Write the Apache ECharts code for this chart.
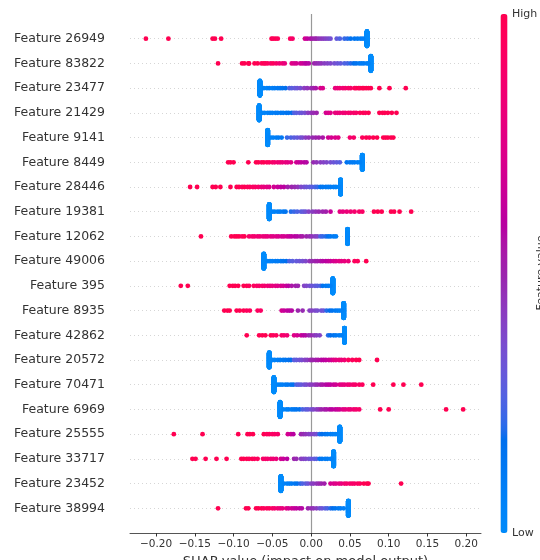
<!DOCTYPE html>
<html>
<head>
<meta charset="utf-8">
<script src="https://cdn.jsdelivr.net/npm/echarts@6/dist/echarts.min.js"></script>
<style>
  html, body { margin: 0; padding: 0; background: #fff; }
  #chart { width: 540px; height: 560px; }
</style>
</head>
<body>
<div id="chart"></div>
<script>
// Features, ordered by mean |SHAP| (top row first)
const featureNames = [
  'Feature 26949', 'Feature 83822', 'Feature 23477', 'Feature 21429', 'Feature 9141',
  'Feature 8449', 'Feature 28446', 'Feature 19381', 'Feature 12062', 'Feature 49006',
  'Feature 395', 'Feature 8935', 'Feature 42862', 'Feature 20572', 'Feature 70471',
  'Feature 6969', 'Feature 25555', 'Feature 33717', 'Feature 23452', 'Feature 38994'
];

// Number of explained samples per feature
const sampleCount = 200;

// SHAP value shared by all samples where the feature is zero (lowest value)
const clusterShap = [
  0.072, 0.077, -0.066, -0.067, -0.056, 0.066, 0.038, -0.054, 0.047, -0.061,
  0.028, 0.042, 0.043, -0.054, -0.048, -0.040, 0.037, 0.029, -0.039, 0.048
];

// Remaining samples: [SHAP value, normalised feature value]
const pts26949 = [[-0.213,1],[-0.184,1],[-0.127,1],[-0.124,1],[-0.116,1],[-0.051,1],[-0.049,0.95],[-0.046,1],[-0.043,0.95],[-0.027,0.95],[-0.024,0.9],[-0.008,0.7],[-0.005,0.62],[-0.001,0.58],[0.002,0.52],[0.005,0.5],[0.007,0.5],[0.010,0.46],[0.013,0.44],[0.016,0.42],[0.019,0.4],[0.022,0.38],[0.025,0.35],[0.033,0.3],[0.037,0.26],[0.043,0.22],[0.047,0.2],[0.051,0.16],[0.056,0.14],[0.060,0.12],[0.064,0.1],[0.067,0.08]];
const pts83822 = [[-0.120,1],[-0.089,1],[-0.086,1],[-0.081,1],[-0.080,1],[-0.073,1],[-0.069,1],[-0.064,0.95],[-0.061,1],[-0.059,0.95],[-0.056,0.95],[-0.052,0.9],[-0.049,0.95],[-0.045,0.9],[-0.041,0.85],[-0.037,0.85],[-0.034,0.8],[-0.025,0.75],[-0.022,0.72],[-0.019,0.7],[-0.014,0.68],[-0.011,0.66],[-0.008,0.62],[-0.006,0.6],[-0.003,0.58],[0.004,0.5],[0.007,0.48],[0.010,0.46],[0.013,0.45],[0.017,0.42],[0.021,0.4],[0.025,0.38],[0.030,0.35],[0.034,0.32],[0.038,0.3],[0.043,0.26],[0.047,0.24],[0.051,0.2],[0.055,0.18],[0.058,0.15],[0.062,0.12],[0.065,0.1],[0.068,0.1],[0.072,0.08],[0.074,0.06]];
const pts23477 = [[-0.061,0.05],[-0.057,0.05],[-0.054,0.08],[-0.050,0.08],[-0.047,0.1],[-0.043,0.12],[-0.040,0.12],[-0.037,0.15],[-0.033,0.18],[-0.028,0.25],[-0.025,0.28],[-0.021,0.3],[-0.018,0.32],[-0.014,0.35],[-0.009,0.42],[-0.005,0.45],[0.000,0.48],[0.003,0.5],[0.006,0.55],[0.012,0.7],[0.015,0.72],[0.031,0.8],[0.034,0.82],[0.037,0.85],[0.041,0.85],[0.044,0.88],[0.048,0.9],[0.051,0.9],[0.056,0.95],[0.058,0.95],[0.061,1],[0.063,0.95],[0.066,1],[0.068,1],[0.071,1],[0.074,1],[0.077,1],[0.088,1],[0.101,1],[0.122,1]];
const pts21429 = [[-0.063,0.05],[-0.060,0.05],[-0.056,0.06],[-0.053,0.08],[-0.050,0.08],[-0.046,0.1],[-0.043,0.1],[-0.039,0.12],[-0.036,0.12],[-0.032,0.15],[-0.029,0.15],[-0.025,0.18],[-0.022,0.25],[-0.019,0.28],[-0.015,0.3],[-0.012,0.32],[-0.008,0.35],[-0.004,0.42],[0.000,0.45],[0.003,0.48],[0.007,0.5],[0.019,0.7],[0.022,0.72],[0.025,0.75],[0.031,0.8],[0.034,0.8],[0.037,0.82],[0.041,0.85],[0.044,0.85],[0.048,0.88],[0.051,0.88],[0.055,0.9],[0.058,0.9],[0.063,0.95],[0.067,1],[0.070,0.95],[0.074,1],[0.088,1],[0.092,1],[0.095,1],[0.099,1],[0.104,1],[0.110,1]];
const pts9141 = [[-0.052,0.05],[-0.049,0.06],[-0.045,0.08],[-0.042,0.1],[-0.038,0.12],[-0.031,0.22],[-0.026,0.25],[-0.022,0.28],[-0.018,0.3],[-0.014,0.33],[-0.011,0.36],[-0.007,0.42],[-0.003,0.45],[0.002,0.48],[0.006,0.5],[0.010,0.52],[0.015,0.55],[0.022,0.68],[0.026,0.7],[0.031,0.72],[0.035,0.75],[0.050,0.88],[0.055,0.9],[0.066,0.95],[0.071,1],[0.075,0.95],[0.080,1],[0.085,1],[0.093,1],[0.096,1],[0.099,1],[0.103,1],[0.106,1]];
const pts8449 = [[-0.107,1],[-0.104,1],[-0.100,1],[-0.081,1],[-0.071,1],[-0.068,1],[-0.064,0.95],[-0.061,1],[-0.057,0.95],[-0.054,0.95],[-0.050,0.9],[-0.047,0.88],[-0.043,0.85],[-0.040,0.85],[-0.037,0.82],[-0.033,0.8],[-0.030,0.78],[-0.026,0.75],[-0.019,0.68],[-0.016,0.65],[-0.013,0.62],[-0.009,0.6],[-0.006,0.58],[0.003,0.48],[0.007,0.45],[0.012,0.42],[0.016,0.4],[0.020,0.38],[0.025,0.35],[0.029,0.32],[0.033,0.3],[0.037,0.28],[0.046,0.15],[0.050,0.12],[0.053,0.1],[0.056,0.1],[0.060,0.08],[0.063,0.06]];
const pts28446 = [[-0.156,1],[-0.147,1],[-0.127,1],[-0.123,1],[-0.117,1],[-0.104,1],[-0.096,1],[-0.093,1],[-0.089,0.95],[-0.086,1],[-0.082,0.95],[-0.079,0.95],[-0.075,0.92],[-0.072,0.92],[-0.068,0.9],[-0.064,0.82],[-0.061,0.8],[-0.057,0.78],[-0.054,0.75],[-0.048,0.68],[-0.043,0.65],[-0.039,0.62],[-0.035,0.6],[-0.030,0.52],[-0.025,0.5],[-0.021,0.48],[-0.017,0.45],[-0.013,0.38],[-0.009,0.35],[-0.006,0.32],[-0.002,0.3],[0.001,0.28],[0.005,0.25],[0.008,0.22],[0.012,0.15],[0.015,0.12],[0.019,0.12],[0.022,0.1],[0.025,0.1],[0.029,0.08],[0.032,0.06],[0.036,0.05]];
const pts19381 = [[-0.050,0.05],[-0.047,0.06],[-0.043,0.08],[-0.040,0.1],[-0.036,0.12],[-0.033,0.15],[-0.026,0.2],[-0.022,0.22],[-0.018,0.25],[-0.013,0.28],[-0.010,0.3],[-0.007,0.33],[-0.003,0.4],[0.002,0.42],[0.006,0.45],[0.010,0.48],[0.015,0.5],[0.019,0.52],[0.025,0.65],[0.037,0.78],[0.041,0.8],[0.046,0.82],[0.051,0.85],[0.056,0.88],[0.062,0.9],[0.066,0.92],[0.081,1],[0.086,1],[0.091,1],[0.103,1],[0.107,1],[0.114,1],[0.129,1]];
const pts12062 = [[-0.142,1],[-0.103,1],[-0.099,1],[-0.096,1],[-0.093,1],[-0.089,0.95],[-0.086,1],[-0.080,0.9],[-0.076,0.88],[-0.073,0.88],[-0.069,0.85],[-0.066,0.85],[-0.062,0.82],[-0.059,0.82],[-0.056,0.8],[-0.052,0.78],[-0.049,0.75],[-0.045,0.75],[-0.042,0.72],[-0.038,0.7],[-0.035,0.7],[-0.031,0.68],[-0.028,0.65],[-0.025,0.62],[-0.021,0.6],[-0.018,0.58],[-0.014,0.56],[-0.011,0.54],[-0.006,0.5],[-0.002,0.48],[0.001,0.45],[0.005,0.42],[0.008,0.4],[0.012,0.25],[0.015,0.22],[0.019,0.2],[0.022,0.15],[0.025,0.12],[0.029,0.1],[0.032,0.08]];
const pts49006 = [[-0.056,0.05],[-0.053,0.06],[-0.050,0.08],[-0.046,0.1],[-0.043,0.1],[-0.039,0.12],[-0.036,0.15],[-0.032,0.18],[-0.028,0.25],[-0.024,0.28],[-0.019,0.3],[-0.015,0.32],[-0.011,0.35],[-0.007,0.38],[-0.002,0.45],[0.001,0.48],[0.005,0.5],[0.008,0.52],[0.012,0.55],[0.015,0.58],[0.019,0.6],[0.022,0.62],[0.025,0.65],[0.029,0.7],[0.032,0.72],[0.036,0.75],[0.039,0.78],[0.043,0.8],[0.048,0.82],[0.056,0.95],[0.060,0.95],[0.071,1]];
const pts395 = [[-0.168,1],[-0.159,1],[-0.105,1],[-0.101,1],[-0.098,1],[-0.094,1],[-0.087,1],[-0.083,1],[-0.080,0.95],[-0.074,0.95],[-0.070,0.92],[-0.067,0.9],[-0.063,0.9],[-0.060,0.88],[-0.056,0.85],[-0.053,0.82],[-0.050,0.8],[-0.046,0.78],[-0.043,0.75],[-0.039,0.72],[-0.036,0.7],[-0.032,0.65],[-0.029,0.6],[-0.025,0.55],[-0.020,0.52],[-0.017,0.5],[-0.009,0.4],[-0.006,0.38],[-0.002,0.35],[0.001,0.32],[0.005,0.3],[0.008,0.28],[0.012,0.25],[0.015,0.15],[0.019,0.12],[0.022,0.1],[0.025,0.08]];
const pts8935 = [[-0.112,1],[-0.108,1],[-0.105,1],[-0.096,1],[-0.092,1],[-0.087,1],[-0.083,0.95],[-0.079,0.95],[-0.069,0.95],[-0.065,0.92],[-0.038,0.7],[-0.035,0.65],[-0.031,0.62],[-0.028,0.6],[-0.025,0.58],[-0.017,0.5],[-0.011,0.48],[-0.002,0.42],[0.001,0.4],[0.005,0.38],[0.008,0.36],[0.013,0.34],[0.016,0.32],[0.020,0.2],[0.024,0.18],[0.027,0.15],[0.031,0.12],[0.034,0.1],[0.037,0.08],[0.040,0.06]];
const pts42862 = [[-0.083,1],[-0.067,1],[-0.063,1],[-0.059,1],[-0.052,1],[-0.049,0.95],[-0.045,0.95],[-0.038,0.9],[-0.035,0.88],[-0.031,0.85],[-0.022,0.75],[-0.018,0.7],[-0.013,0.65],[-0.010,0.6],[-0.007,0.58],[-0.003,0.5],[0.000,0.48],[0.004,0.45],[0.007,0.42],[0.011,0.4],[0.022,0.2],[0.025,0.18],[0.029,0.15],[0.032,0.12],[0.036,0.1],[0.039,0.08]];
const pts20572 = [[-0.050,0.05],[-0.047,0.06],[-0.043,0.08],[-0.040,0.1],[-0.036,0.12],[-0.033,0.14],[-0.029,0.16],[-0.026,0.18],[-0.022,0.28],[-0.019,0.3],[-0.015,0.33],[-0.012,0.36],[-0.008,0.4],[-0.005,0.42],[-0.001,0.48],[0.002,0.5],[0.006,0.52],[0.009,0.55],[0.013,0.58],[0.016,0.6],[0.019,0.62],[0.023,0.65],[0.026,0.68],[0.029,0.75],[0.032,0.78],[0.036,0.8],[0.039,0.82],[0.043,0.85],[0.048,0.95],[0.053,0.95],[0.058,1],[0.062,1],[0.085,1]];
const pts70471 = [[-0.043,0.05],[-0.040,0.06],[-0.037,0.08],[-0.033,0.1],[-0.030,0.12],[-0.026,0.14],[-0.023,0.16],[-0.019,0.25],[-0.016,0.28],[-0.013,0.3],[-0.009,0.33],[-0.006,0.36],[-0.002,0.4],[0.001,0.42],[0.005,0.45],[0.008,0.48],[0.012,0.52],[0.015,0.55],[0.019,0.58],[0.022,0.6],[0.025,0.62],[0.029,0.65],[0.032,0.68],[0.037,0.75],[0.040,0.78],[0.043,0.8],[0.047,0.82],[0.050,0.85],[0.054,0.88],[0.057,0.9],[0.062,0.92],[0.066,0.95],[0.080,1],[0.106,1],[0.119,1],[0.142,1]];
const pts6969 = [[-0.036,0.05],[-0.032,0.06],[-0.029,0.08],[-0.025,0.1],[-0.022,0.12],[-0.019,0.14],[-0.015,0.16],[-0.011,0.25],[-0.007,0.28],[-0.004,0.3],[0.000,0.34],[0.003,0.38],[0.007,0.42],[0.010,0.45],[0.013,0.5],[0.017,0.52],[0.020,0.55],[0.024,0.58],[0.027,0.6],[0.031,0.62],[0.034,0.65],[0.037,0.68],[0.041,0.75],[0.044,0.78],[0.048,0.8],[0.051,0.82],[0.055,0.85],[0.058,0.88],[0.062,0.9],[0.089,1],[0.100,1],[0.174,1],[0.196,1]];
const pts25555 = [[-0.177,1],[-0.140,1],[-0.094,1],[-0.082,1],[-0.079,1],[-0.075,1],[-0.061,1],[-0.057,0.95],[-0.054,0.95],[-0.050,0.92],[-0.047,0.92],[-0.043,0.9],[-0.030,0.7],[-0.026,0.65],[-0.023,0.6],[-0.013,0.5],[-0.010,0.48],[-0.007,0.45],[-0.003,0.42],[0.000,0.4],[0.004,0.38],[0.007,0.35],[0.011,0.2],[0.014,0.18],[0.018,0.15],[0.021,0.12],[0.025,0.1],[0.028,0.08],[0.031,0.06],[0.034,0.05]];
const pts33717 = [[-0.153,1],[-0.149,1],[-0.136,1],[-0.122,1],[-0.109,1],[-0.090,1],[-0.087,1],[-0.083,1],[-0.080,0.95],[-0.076,1],[-0.073,0.95],[-0.069,0.95],[-0.062,0.9],[-0.059,0.9],[-0.056,0.88],[-0.052,0.85],[-0.049,0.85],[-0.045,0.82],[-0.039,0.7],[-0.036,0.65],[-0.031,0.6],[-0.022,0.5],[-0.019,0.48],[-0.013,0.42],[-0.010,0.4],[-0.007,0.38],[-0.003,0.35],[0.000,0.32],[0.004,0.3],[0.007,0.28],[0.011,0.15],[0.014,0.12],[0.018,0.1],[0.021,0.1],[0.025,0.08],[0.027,0.06]];
const pts23452 = [[-0.035,0.05],[-0.031,0.06],[-0.028,0.08],[-0.025,0.1],[-0.021,0.12],[-0.018,0.15],[-0.014,0.2],[-0.011,0.25],[-0.007,0.28],[-0.004,0.32],[0.000,0.4],[0.003,0.42],[0.007,0.45],[0.010,0.48],[0.013,0.5],[0.017,0.52],[0.025,0.7],[0.029,0.72],[0.032,0.75],[0.036,0.78],[0.039,0.8],[0.043,0.85],[0.046,0.88],[0.050,0.88],[0.053,0.9],[0.056,0.9],[0.060,0.92],[0.063,0.95],[0.068,1],[0.072,1],[0.074,1],[0.116,1]];
const pts38994 = [[-0.120,1],[-0.084,1],[-0.081,1],[-0.071,1],[-0.068,1],[-0.064,1],[-0.061,0.95],[-0.057,0.95],[-0.054,0.95],[-0.050,0.92],[-0.047,0.88],[-0.043,0.85],[-0.040,0.82],[-0.037,0.8],[-0.032,0.78],[-0.029,0.7],[-0.025,0.68],[-0.022,0.65],[-0.019,0.62],[-0.015,0.6],[-0.012,0.58],[-0.004,0.5],[0.000,0.48],[0.003,0.45],[0.007,0.42],[0.011,0.35],[0.014,0.32],[0.018,0.28],[0.021,0.25],[0.025,0.2],[0.028,0.18],[0.031,0.15],[0.035,0.12],[0.038,0.1],[0.042,0.08]];

const featurePoints = [
  pts26949, pts83822, pts23477, pts21429, pts9141, pts8449, pts28446, pts19381, pts12062, pts49006,
  pts395, pts8935, pts42862, pts20572, pts70471, pts6969, pts25555, pts33717, pts23452, pts38994
];

// x-axis ticks
const xTicks = [-0.2, -0.15, -0.1, -0.05, 0, 0.05, 0.1, 0.15, 0.2];

// ---------- colour map: blue -> purple -> red, interpolated in LCh ----------
function lchToHex(L, C, H) {
  const a = C * Math.cos(H), b = C * Math.sin(H);
  const fy = (L + 16) / 116, fx = fy + a / 500, fz = fy - b / 200;
  const finv = t => (t > 6 / 29 ? t * t * t : 3 * (6 / 29) * (6 / 29) * (t - 4 / 29));
  const X = 0.95047 * finv(fx), Y = finv(fy), Z = 1.08883 * finv(fz);
  const lin = [
    3.2404542 * X - 1.5371385 * Y - 0.4985314 * Z,
    -0.9692660 * X + 1.8760108 * Y + 0.0415560 * Z,
    0.0556434 * X - 0.2040259 * Y + 1.0572252 * Z
  ];
  return '#' + lin.map(c => {
    let v = c <= 0.0031308 ? 12.92 * c : 1.055 * Math.pow(c, 1 / 2.4) - 0.055;
    v = Math.round(Math.min(1, Math.max(0, v)) * 255);
    return v.toString(16).padStart(2, '0');
  }).join('');
}
function redBlueStops(n) {
  const blue = [54, 70, 4.6588], red = [54, 90, 0.35470565 + 2 * Math.PI], lMid = 40;
  const out = [];
  const half = n / 2;
  for (let i = 0; i < n; i++) {
    const L = i < half ? blue[0] + (lMid - blue[0]) * i / (half - 1)
                       : lMid + (red[0] - lMid) * (i - half) / (half - 1);
    const t = i / (n - 1);
    out.push(lchToHex(L, blue[1] + (red[1] - blue[1]) * t, blue[2] + (red[2] - blue[2]) * t));
  }
  return out;
}
const colorStops = redBlueStops(100);

// ---------- beeswarm vertical offsets (binned stacking per row) ----------
function beeswarmOffsets(shaps, maxOffset) {
  const nbins = 100;
  const lo = Math.min(...shaps), hi = Math.max(...shaps);
  const quant = shaps.map(s => Math.round(nbins * (s - lo) / (hi - lo + 1e-8)));
  const order = shaps.map((_, i) => i).sort((a, b) => quant[a] - quant[b] || a - b);
  const ys = new Array(shaps.length).fill(0);
  let layer = 0, lastBin = -1;
  for (const i of order) {
    if (quant[i] !== lastBin) layer = 0;
    ys[i] = Math.ceil(layer / 2) * ((layer % 2) * 2 - 1);
    layer++;
    lastBin = quant[i];
  }
  const m = Math.max(...ys) + 1;
  return ys.map(y => y * maxOffset / m);
}

const scatterData = [];
featureNames.forEach((name, row) => {
  const pts = featurePoints[row];
  const samples = [];
  for (let k = 0; k < sampleCount - pts.length; k++) samples.push([clusterShap[row], 0]);
  pts.forEach(p => samples.push(p));
  const offs = beeswarmOffsets(samples.map(s => s[0]), 0.3);
  samples.forEach((s, k) => scatterData.push([s[0], row + offs[k], s[1]]));
});

const FONT = 'DejaVu Sans';
const chart = echarts.init(document.getElementById('chart'), null, { renderer: 'canvas' });
chart.setOption({
  animation: false,
  backgroundColor: '#ffffff',
  textStyle: { fontFamily: FONT },
  grid: { left: 130, right: 59, top: 14, bottom: 27, outerBoundsMode: 'none', containLabel: false },
  xAxis: {
    type: 'value',
    min: -0.2335,
    max: 0.219,
    axisLine: { show: true, onZero: false, lineStyle: { color: '#555555', width: 1 } },
    axisTick: { show: true, customValues: xTicks, length: 3.5, lineStyle: { color: '#333333' } },
    axisLabel: {
      customValues: xTicks,
      formatter: v => (v < 0 ? '\u2212' : '') + Math.abs(v).toFixed(2),
      fontSize: 10.5, color: '#333333', margin: 6, fontFamily: FONT
    },
    splitLine: { show: false },
    name: 'SHAP value (impact on model output)',
    nameLocation: 'middle',
    nameGap: 16,
    nameTextStyle: { fontSize: 13, color: '#333333', fontFamily: FONT }
  },
  yAxis: {
    type: 'value',
    min: -1,
    max: 20,
    inverse: true,
    axisLine: { show: false },
    axisTick: { show: false },
    splitLine: { show: false },
    axisLabel: {
      customValues: featureNames.map((_, i) => i),
      formatter: v => featureNames[Math.round(v)] || '',
      fontSize: 12.5, color: '#333333', margin: 25, fontFamily: FONT
    }
  },
  visualMap: {
    type: 'continuous',
    min: 0,
    max: 1,
    dimension: 2,
    seriesIndex: 0,
    show: true,
    calculable: false,
    hoverLink: false,
    orient: 'vertical',
    left: 495.5,
    top: 9,
    padding: 5,
    itemWidth: 7,
    itemHeight: 519,
    text: null,
    inRange: { color: colorStops }
  },
  graphic: [
    { type: 'text', x: 512, y: 14, silent: true,
      style: { text: 'High', fontSize: 11, fontFamily: FONT, fill: '#333333',
               align: 'left', verticalAlign: 'middle', textAlign: 'left', textVerticalAlign: 'middle' } },
    { type: 'text', x: 512, y: 533, silent: true,
      style: { text: 'Low', fontSize: 11, fontFamily: FONT, fill: '#333333',
               align: 'left', verticalAlign: 'middle', textAlign: 'left', textVerticalAlign: 'middle' } },
    { type: 'text', x: 541, y: 273, rotation: Math.PI / 2, silent: true,
      style: { text: 'Feature value', fontSize: 11, fontFamily: FONT, fill: '#333333',
               align: 'center', verticalAlign: 'middle', textAlign: 'center', textVerticalAlign: 'middle' } }
  ],
  series: [
    {
      // beeswarm points, on their own layer above the guide lines
      type: 'scatter',
      data: scatterData,
      symbol: 'circle',
      symbolSize: 4.8,
      itemStyle: { opacity: 1, borderWidth: 0 },
      silent: true,
      progressive: 0,
      zlevel: 1,
      z: 3
    },
    {
      // row guides and the zero reference line
      type: 'scatter',
      data: [],
      silent: true,
      zlevel: 0,
      z: 1,
      markLine: {
        silent: true,
        symbol: ['none', 'none'],
        label: { show: false },
        data: [
          { xAxis: 0, lineStyle: { color: '#999999', width: 1.2, type: 'solid' } }
        ].concat(featureNames.map((_, i) => ({
          yAxis: i, lineStyle: { color: '#cccccc', width: 0.8, type: [1, 3] }
        })))
      }
    }
  ]
});
</script>
</body>
</html>
